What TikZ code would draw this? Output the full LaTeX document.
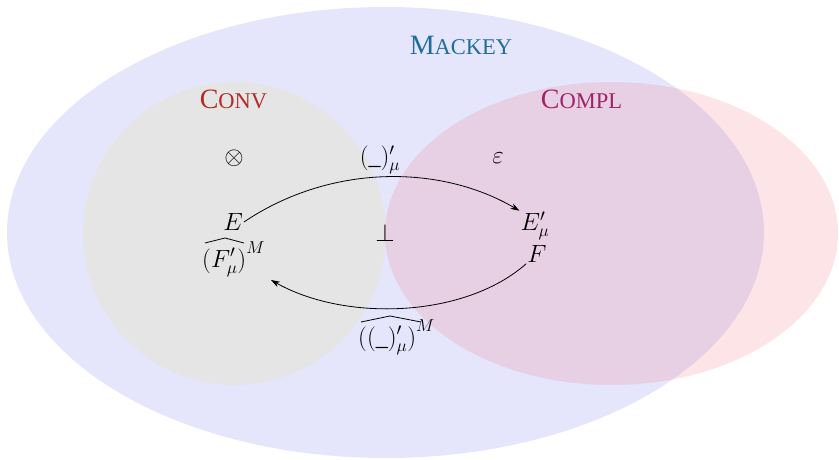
\documentclass[tikz,border=0pt]{standalone}
\usepackage{fontspec}
\setmainfont{Liberation Serif}
\usetikzlibrary{arrows.meta}
\definecolor{mackeyfill}{RGB}{229,229,252}
\definecolor{convfill}{RGB}{230,229,229}
\definecolor{complfill}{RGB}{245,125,135}
\definecolor{mackeytext}{RGB}{30,110,155}
\definecolor{convtext}{RGB}{178,45,40}
\definecolor{compltext}{RGB}{160,35,105}
\newcommand{\fsc}[2]{{\fontsize{28}{32}\selectfont #1}{\fontsize{22.5}{26}\selectfont #2}}
\tikzset{
  lbl/.style={font=\fontsize{24}{29}\selectfont, inner sep=1pt},
  setname/.style={inner sep=0pt},
  arr/.style={-{Stealth[length=9pt,width=6pt]}, line width=0.8pt},
  hat/.style={line width=0.8pt}
}
\begin{document}
\begin{tikzpicture}[x=1pt,y=-1pt]
\useasboundingbox (0,0) rectangle (839,460);
% sets
\fill[mackeyfill] (385.5,232.5) ellipse [x radius=378.5, y radius=225.5];
\fill[convfill] (234.5,233.5) circle [radius=151.5];
\fill[complfill, fill opacity=0.2] (611.5,233.5) ellipse [x radius=226.5, y radius=151.5];
% set names
\node[setname, text=mackeytext] (mackey) at (461,45) {\fsc{M}{ACKEY}};
\node[setname, text=convtext] (conv) at (233.5,99) {\fsc{C}{ONV}};
\node[setname, text=compltext] (compl) at (581.5,99) {\fsc{C}{OMPL}};
% symbols
\node[lbl] (otimes) at (234,158) {$\otimes$};
\node[lbl] (eps) at (498,158) {$\varepsilon$};
\node[lbl] (perp) at (385,233) {$\perp$};
% objects
\node[lbl] (E) at (233,222) {$E$};
\node[lbl, anchor=base west] (Fh) at (201,267) {${\vphantom{\widehat{F}}(F'_\mu)}^{M}$};
\node[lbl] (Ep) at (535,226) {$E'_\mu$};
\node[lbl] (F) at (537,254) {$F$};
\draw[hat] (205,243) -- (225,238) -- (244,243);
% arrows
\coordinate (fhend) at (271,280);
\draw[arr] (E.east) .. controls (330,164) and (440,164) .. (Ep.north west);
\draw[arr] (F.south west) .. controls (465,318) and (345,322) .. (fhend);
% arrow labels
\node[lbl] (top) at (380,160) {$(\_)'_\mu$};
\node[lbl, anchor=base west] (bot) at (357,345) {${\vphantom{\widehat{F}}((\_)'_\mu)}^{M}$};
\draw[hat] (361,322) -- (390,316) -- (421,322);
\end{tikzpicture}
\end{document}
